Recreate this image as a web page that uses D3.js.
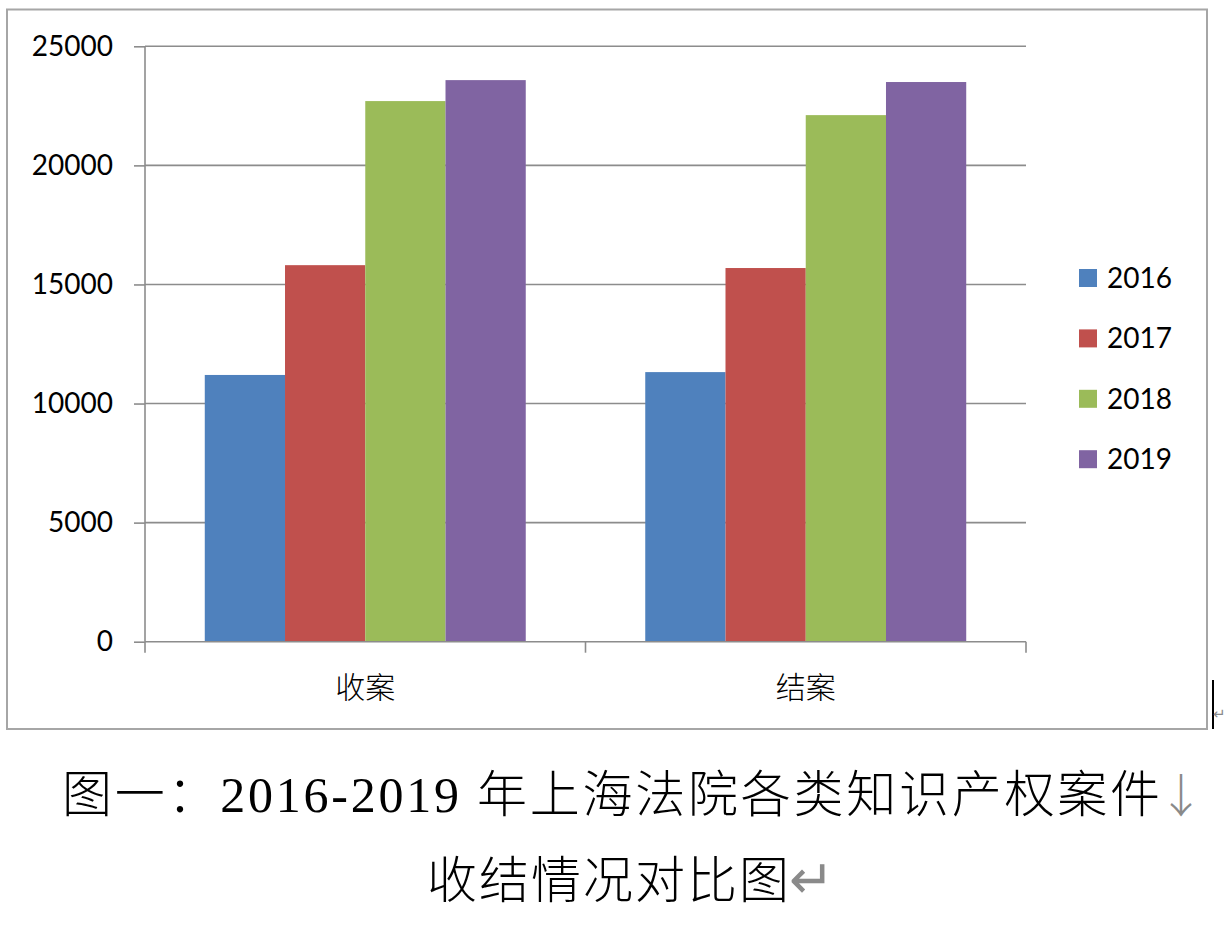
<!DOCTYPE html>
<html>
<head>
<meta charset="utf-8">
<script src="https://cdn.jsdelivr.net/npm/d3@7/dist/d3.min.js"></script>
<style>
html,body{margin:0;padding:0;background:#fff;overflow:hidden;}
</style>
</head>
<body>
<svg id="chart" width="1227" height="930"></svg>
<script>
// ---- data ----
const categories = ["收案", "结案"];
const years = ["2016", "2017", "2018", "2019"];
const values2016 = [11200, 11320];
const values2017 = [15810, 15690];
const values2018 = [22700, 22110];
const values2019 = [23580, 23500];
const yTicks = [0, 5000, 10000, 15000, 20000, 25000];
const colors = ["#4F81BD", "#C0504D", "#9BBB59", "#8064A2"];
const captionLine1 = "图一：2016-2019 年上海法院各类知识产权案件";
const captionLine2 = "收结情况对比图";

(function () {
const seriesValues = [values2016, values2017, values2018, values2019];

const svg = d3.select("#chart");
svg.append("rect").attr("width", 1227).attr("height", 930).attr("fill", "#fff");

// chart border
svg.append("rect")
  .attr("x", 7).attr("y", 9.5).attr("width", 1200).attr("height", 719.5)
  .attr("fill", "none").attr("stroke", "#a6a6a6").attr("stroke-width", 2);

const pLeft = 145, pRight = 1026, pTop = 46.3, pBottom = 641.7;
const y = d3.scaleLinear().domain([0, 25000]).range([pBottom, pTop]);
const x0 = d3.scaleBand().domain(categories).range([pLeft, pRight])
  .paddingInner(0.2713).paddingOuter(0.1357);
const x1 = d3.scaleBand().domain(years).range([0, x0.bandwidth()]);

const gridColor = "#8c8c8c";
const labelFont = "Lato, 'Open Sans', sans-serif";
const cjkFont = "'Noto Sans CJK SC', sans-serif";

// gridlines
svg.append("g").selectAll("line").data(yTicks.filter(d => d > 0)).join("line")
  .attr("x1", pLeft).attr("x2", pRight)
  .attr("y1", d => y(d)).attr("y2", d => y(d))
  .attr("stroke", gridColor).attr("stroke-width", 1.6);

// y axis
const yAxis = svg.append("g").attr("transform", `translate(${pLeft},0)`)
  .call(d3.axisLeft(y).tickValues(yTicks).tickSize(11).tickPadding(21).tickFormat(d3.format("d")));
yAxis.select(".domain").attr("stroke", gridColor).attr("stroke-width", 1.6).attr("d", `M0,${pBottom}V${pTop}`);
yAxis.selectAll(".tick line").attr("stroke", gridColor).attr("stroke-width", 1.6);
yAxis.selectAll(".tick text").attr("font-family", labelFont).attr("font-size", 28).attr("fill", "#000");

// bars
const groups = svg.append("g").selectAll("g").data(categories).join("g")
  .attr("transform", d => `translate(${x0(d)},0)`);
groups.selectAll("rect")
  .data((c, ci) => years.map((yr, si) => ({ yr, si, v: seriesValues[si][ci] })))
  .join("rect")
  .attr("x", d => x1(d.yr))
  .attr("width", x1.bandwidth())
  .attr("y", d => y(d.v))
  .attr("height", d => y(0) - y(d.v))
  .attr("fill", d => colors[d.si]);

// x axis
const xBoundaries = d3.range(categories.length + 1).map(i => pLeft + i * (pRight - pLeft) / categories.length);
svg.append("line").attr("x1", pLeft).attr("x2", pRight).attr("y1", pBottom).attr("y2", pBottom)
  .attr("stroke", gridColor).attr("stroke-width", 1.6);
svg.append("g").selectAll("line").data(xBoundaries).join("line")
  .attr("x1", d => d).attr("x2", d => d).attr("y1", pBottom).attr("y2", pBottom + 11)
  .attr("stroke", gridColor).attr("stroke-width", 1.6);
svg.append("g").selectAll("text").data(categories).join("text")
  .attr("x", d => x0(d) + x0.bandwidth() / 2)
  .attr("y", 698)
  .attr("text-anchor", "middle")
  .attr("font-family", cjkFont).attr("font-size", 30).attr("font-weight", 300)
  .attr("fill", "#000")
  .text(d => d);

// legend
const legend = svg.append("g").selectAll("g").data(years).join("g")
  .attr("transform", (d, i) => `translate(1079,${278 + i * 60.4})`);
legend.append("rect").attr("x", 0).attr("y", -9).attr("width", 18).attr("height", 18)
  .attr("fill", (d, i) => colors[i]);
legend.append("text").attr("x", 28).attr("y", 0).attr("dy", "0.36em")
  .attr("font-family", labelFont).attr("font-size", 28).attr("fill", "#000")
  .text(d => d);

// editor cursor + paragraph mark at the right edge
svg.append("line").attr("x1", 1213).attr("x2", 1213).attr("y1", 680).attr("y2", 729)
  .attr("stroke", "#000").attr("stroke-width", 2);
svg.append("text").attr("x", 1213).attr("y", 719)
  .attr("font-family", "'DejaVu Sans', sans-serif").attr("font-size", 15).attr("fill", "#8a8a8a")
  .text("↵");

// caption
const capFont = "'Liberation Serif', 'Noto Sans CJK SC', serif";
svg.append("text").attr("x", 62).attr("y", 812)
  .attr("font-family", capFont).attr("font-size", 50).attr("font-weight", 300).attr("fill", "#000")
  .attr("textLength", 1098).attr("lengthAdjust", "spacing")
  .text(captionLine1);
svg.append("text").attr("x", 1158).attr("y", 812)
  .attr("font-family", "'Noto Sans CJK SC', sans-serif").attr("font-size", 46).attr("font-weight", 300).attr("fill", "#8a8a8a")
  .text("↓");
svg.append("text").attr("x", 789).attr("y", 898)
  .attr("font-family", "'Noto Sans CJK SC', sans-serif").attr("font-size", 54).attr("font-weight", 100).attr("fill", "#8a8a8a")
  .text("↵");
svg.append("text").attr("x", 427).attr("y", 898)
  .attr("font-family", capFont).attr("font-size", 50).attr("font-weight", 300).attr("fill", "#000")
  .attr("textLength", 362).attr("lengthAdjust", "spacing")
  .text(captionLine2);
})();
</script>
</body>
</html>
